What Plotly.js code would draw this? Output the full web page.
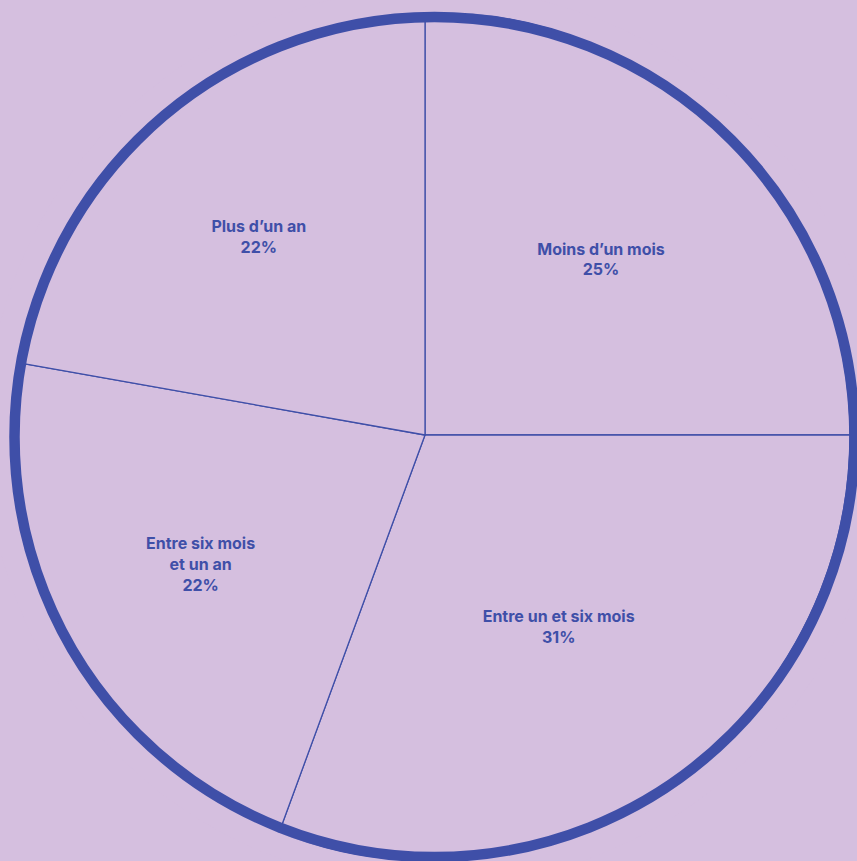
<!DOCTYPE html>
<html>
<head>
<meta charset="utf-8">
<script src="https://cdn.plot.ly/plotly-3.0.1.min.js"></script>
<style>html,body{margin:0;padding:0;background:#d5bfdf;}#chart{width:857px;height:861px;}</style>
</head>
<body>
<div id="chart"></div>
<script>
const labels = ["Moins d’un mois", "Entre un et six mois", "Entre six mois<br>et un an", "Plus d’un an"];
const values = [25, 30.6, 22.2, 22.2];

const W = 857, H = 861;
const bg = "#d5bfdf";
const blue = "#3f4fa8";

// slice pie geometry (pixels)
const sc = {x: 425, y: 435, r: 425};
// ring geometry (pixels)
const rc = {x: 434.5, y: 437, r: 420};

const trace = {
  type: "pie",
  labels: labels,
  values: values,
  sort: false,
  direction: "clockwise",
  rotation: 0,
  marker: {colors: labels.map(() => bg), line: {color: blue, width: 1.3}},
  texttemplate: "%{label}<br>%{percent:.0%}",
  textposition: "inside",
  insidetextorientation: "horizontal",
  textfont: {family: "Inter, 'DejaVu Sans', sans-serif", size: 16, color: blue, weight: 700},
  hoverinfo: "none",
  showlegend: false,
  domain: {
    x: [(sc.x - sc.r) / W, (sc.x + sc.r) / W],
    y: [1 - (sc.y + sc.r) / H, 1 - (sc.y - sc.r) / H]
  }
};

function circle(r, w, color) {
  return {
    type: "circle", xref: "paper", yref: "paper", layer: "above",
    x0: (rc.x - r) / W, x1: (rc.x + r) / W,
    y0: 1 - (rc.y + r) / H, y1: 1 - (rc.y - r) / H,
    line: {color: color, width: w}, fillcolor: "rgba(0,0,0,0)"
  };
}

const layout = {
  width: W, height: H,
  margin: {l: 0, r: 0, t: 0, b: 0},
  paper_bgcolor: bg, plot_bgcolor: bg,
  showlegend: false,
  shapes: [circle(437, 24, bg), circle(rc.r, 10.5, blue)]
};

Plotly.newPlot("chart", [trace], layout, {displayModeBar: false, staticPlot: true});
</script>
</body>
</html>
